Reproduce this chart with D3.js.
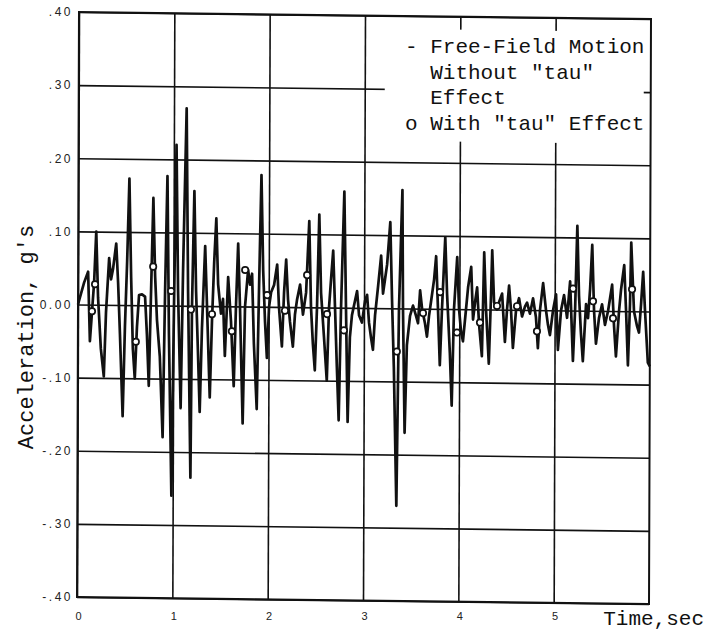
<!DOCTYPE html>
<html>
<head>
<meta charset="utf-8">
<script src="https://cdn.jsdelivr.net/npm/d3@7"></script>
<style>
  body { margin: 0; background: #fff; }
  svg { display: block; }
</style>
</head>
<body>
<svg id="chart"></svg>
<script>
// free-field motion (sec, g's)
const timeSec = [
  0.000,0.031,0.063,0.105,0.126,0.147,0.168,0.189,0.210,0.241,
  0.273,0.294,0.325,0.346,0.367,0.399,0.420,0.441,0.472,0.493,
  0.514,0.535,0.556,0.577,0.598,0.619,0.640,0.671,0.703,0.724,
  0.745,0.766,0.787,0.808,0.829,0.860,0.892,0.913,0.934,0.955,
  0.986,1.007,1.028,1.049,1.080,1.101,1.133,1.154,1.185,1.196,
  1.217,1.238,1.259,1.280,1.301,1.332,1.353,1.385,1.406,1.427,
  1.448,1.469,1.500,1.521,1.542,1.574,1.605,1.636,1.657,1.678,
  1.699,1.731,1.752,1.783,1.804,1.825,1.846,1.878,1.899,1.920,
  1.941,1.962,1.983,2.004,2.025,2.056,2.088,2.108,2.140,2.161,
  2.182,2.203,2.224,2.255,2.276,2.297,2.329,2.360,2.392,2.423,
  2.444,2.465,2.486,2.507,2.528,2.549,2.581,2.612,2.633,2.654,
  2.675,2.696,2.717,2.738,2.759,2.790,2.811,2.832,2.853,2.874,
  2.906,2.927,2.948,2.979,3.011,3.032,3.053,3.074,3.095,3.116,
  3.147,3.178,3.199,3.220,3.241,3.273,3.294,3.315,3.346,3.367,
  3.399,3.409,3.430,3.451,3.483,3.514,3.546,3.567,3.588,3.609,
  3.640,3.661,3.682,3.703,3.734,3.755,3.776,3.797,3.818,3.850,
  3.871,3.902,3.923,3.944,3.976,3.997,4.018,4.039,4.070,4.091,
  4.123,4.144,4.165,4.186,4.207,4.238,4.259,4.280,4.311,4.332,
  4.343,4.364,4.395,4.416,4.448,4.479,4.500,4.521,4.542,4.563,
  4.595,4.626,4.658,4.689,4.710,4.741,4.773,4.804,4.825,4.846,
  4.878,4.909,4.930,4.951,4.983,5.014,5.035,5.067,5.098,5.130,
  5.161,5.193,5.214,5.235,5.255,5.276,5.297,5.329,5.350,5.371,
  5.392,5.413,5.434,5.465,5.497,5.528,5.560,5.602,5.623,5.644,
  5.675,5.696,5.728,5.749,5.770,5.790,5.801,5.832,5.864,5.885,
  5.906,5.927,5.948,5.979,6.000];
const accel = [
  0.000,0.015,0.030,0.045,-0.050,-0.010,0.030,0.100,0.010,-0.060,
  -0.098,-0.010,0.064,0.035,0.050,0.084,0.030,-0.040,-0.152,-0.030,
  0.060,0.173,0.040,-0.060,-0.100,-0.030,0.014,0.015,0.012,-0.040,
  -0.110,0.020,0.147,0.040,-0.020,-0.070,-0.180,0.020,0.177,-0.040,
  -0.260,0.000,0.220,0.020,-0.140,0.050,0.270,0.020,-0.235,0.000,
  0.157,0.020,-0.060,-0.145,-0.030,0.082,0.000,-0.125,-0.020,0.060,
  0.120,0.030,-0.010,0.010,-0.068,0.040,-0.020,-0.109,0.000,0.086,
  0.000,-0.160,0.000,0.050,0.030,0.045,-0.050,-0.140,0.030,0.180,
  0.050,-0.020,-0.070,0.000,0.020,0.030,0.058,0.000,-0.054,0.020,
  0.065,0.010,-0.020,-0.054,-0.010,0.010,0.031,-0.010,0.020,0.118,
  0.000,-0.050,-0.086,0.000,0.127,0.020,-0.040,-0.100,0.000,0.040,
  0.078,0.000,-0.080,-0.154,0.000,0.159,0.000,-0.156,-0.040,-0.010,
  0.010,0.023,-0.010,-0.020,0.010,0.018,-0.020,-0.040,-0.057,-0.010,
  0.030,0.072,0.020,0.040,0.060,0.118,0.010,-0.080,-0.270,0.000,
  0.162,0.000,-0.170,-0.050,-0.010,0.004,-0.010,-0.020,0.025,0.000,
  -0.020,-0.038,-0.010,0.010,0.040,0.072,0.000,-0.077,0.000,0.098,
  0.020,-0.060,-0.132,0.000,0.071,0.000,-0.030,-0.044,0.000,0.030,
  0.058,-0.014,0.010,0.030,-0.020,-0.064,0.078,0.000,-0.074,0.020,
  0.081,0.010,0.000,0.010,0.022,-0.044,0.000,0.033,0.000,-0.052,
  0.000,0.016,-0.009,0.005,0.010,-0.005,0.016,-0.010,-0.052,0.000,
  0.037,0.000,-0.020,-0.034,0.000,0.022,-0.054,0.000,0.021,-0.010,
  0.040,-0.069,0.000,0.116,0.020,-0.030,-0.069,0.009,-0.010,0.030,
  0.090,0.000,-0.045,-0.010,0.009,-0.019,0.000,0.036,-0.020,-0.062,
  0.000,0.030,0.063,0.000,-0.074,0.010,0.094,0.000,-0.020,-0.029,
  0.010,0.054,0.000,-0.070,-0.075];

// "tau" effect points
const tauTime = [0.147,0.178,0.608,0.787,0.976,1.185,1.406,1.615,1.752,1.983,2.171,2.402,2.612,2.790,3.346,3.619,3.797,3.976,4.217,4.395,
  4.605,4.815,5.192,5.402,5.612,5.811];
const tauAccel = [-0.009,0.028,-0.050,0.053,0.020,-0.005,-0.011,-0.034,0.050,0.016,-0.005,0.044,-0.009,-0.031,-0.059,-0.006,0.023,-0.032,-0.018,0.005,
  0.005,-0.029,0.030,0.013,-0.010,0.030];

const yTicks = [0.4,0.3,0.2,0.1,0,-0.1,-0.2,-0.3,-0.4];
const yTickLabels = [".40",".30",".20",".10","0.00","-.10","-.20","-.30","-.40"];
const xTicks = [0,1,2,3,4,5];
const xTickLabels = ["0","1","2","3","4","5"];
const legendLines = ["- Free-Field Motion","  Without \"tau\"","  Effect","o With \"tau\" Effect"];

const W = 706, H = 633;
const pLeft = 78, pRight = 650, pTop = 12, pBottom = 597;
const ink = '#111';

const svg = d3.select('#chart').attr('width', W).attr('height', H);
svg.append('rect').attr('width', W).attr('height', H).attr('fill', '#fff');

const x = d3.scaleLinear().domain([0, 6]).range([pLeft, pRight]);
const y = d3.scaleLinear().domain([-0.4, 0.4]).range([pBottom, pTop]);

// the scanned sheet is a little skewed: right side sits lower
const plot = svg.append('g')
  .attr('transform', 'matrix(1,0.0122,-0.0034,1,1.04,-0.95)');

// grid lines
plot.append('g')
  .attr('transform', `translate(${pLeft},0)`)
  .call(d3.axisLeft(y).tickValues(yTicks).tickSize(-(pRight - pLeft)).tickFormat(''))
  .call(g => g.select('.domain').remove())
  .call(g => g.selectAll('line').attr('stroke', ink).attr('stroke-width', 1.6));

plot.append('g')
  .attr('transform', `translate(0,${pBottom})`)
  .call(d3.axisBottom(x).tickValues(xTicks).tickSize(-(pBottom - pTop)).tickFormat(''))
  .call(g => g.select('.domain').remove())
  .call(g => g.selectAll('line').attr('stroke', ink).attr('stroke-width', 1.6));

// frame
plot.append('rect')
  .attr('x', pLeft).attr('y', pTop)
  .attr('width', pRight - pLeft).attr('height', pBottom - pTop)
  .attr('fill', 'none').attr('stroke', ink).attr('stroke-width', 2);

// legend patch hides the grid behind it
plot.append('rect')
  .attr('x', 384).attr('y', 25)
  .attr('width', 259).attr('height', 112)
  .attr('fill', '#fff');

// series
const series = timeSec.map((t, i) => ({ t: t, a: accel[i] }));
const line = d3.line().x(d => x(d.t)).y(d => y(d.a));

plot.append('path')
  .datum(series)
  .attr('d', line)
  .attr('fill', 'none')
  .attr('stroke', ink)
  .attr('stroke-width', 2.7)
  .attr('stroke-linejoin', 'round');

plot.selectAll('circle.tau')
  .data(tauTime.map((t, i) => ({ t: t, a: tauAccel[i] })))
  .enter()
  .append('circle')
  .classed('tau', true)
  .attr('cx', d => x(d.t))
  .attr('cy', d => y(d.a))
  .attr('r', 3.2)
  .attr('fill', '#fff')
  .attr('stroke', ink)
  .attr('stroke-width', 1.7);

// tick labels (not skewed)
svg.append('g')
  .attr('transform', `translate(${pLeft},0)`)
  .call(d3.axisLeft(y).tickValues(yTicks).tickSize(0).tickPadding(5)
    .tickFormat((d, i) => yTickLabels[i]))
  .call(g => g.select('.domain').remove())
  .call(g => g.selectAll('text')
    .attr('font-family', 'Liberation Sans, Arial, sans-serif')
    .attr('font-size', 12)
    .attr('letter-spacing', 2.5)
    .attr('fill', '#222'));

svg.append('g')
  .attr('transform', `translate(0,${pBottom})`)
  .call(d3.axisBottom(x).tickValues(xTicks).tickSize(0).tickPadding(15)
    .tickFormat((d, i) => xTickLabels[i]))
  .call(g => g.select('.domain').remove())
  .call(g => g.selectAll('text')
    .attr('font-family', 'Liberation Sans, Arial, sans-serif')
    .attr('font-size', 11)
    .attr('fill', '#222'));

// legend
const legend = svg.append('text')
  .attr('font-family', 'Liberation Mono, DejaVu Sans Mono, monospace')
  .attr('font-size', 21)
  .attr('fill', ink)
  .style('white-space', 'pre');

legendLines.forEach((s, i) => {
  legend.append('tspan')
    .attr('x', 405)
    .attr('y', 53 + i * 25.5)
    .text(s);
});

// axis titles
svg.append('text')
  .attr('x', 704).attr('y', 625)
  .attr('text-anchor', 'end')
  .attr('font-family', 'Liberation Mono, DejaVu Sans Mono, monospace')
  .attr('font-size', 21)
  .attr('fill', ink)
  .text('Time,sec');

svg.append('text')
  .attr('transform', 'translate(33,337) rotate(-90)')
  .attr('text-anchor', 'middle')
  .attr('font-family', 'Liberation Mono, DejaVu Sans Mono, monospace')
  .attr('font-size', 22)
  .attr('fill', ink)
  .text("Acceleration, g's");
</script>
</body>
</html>
